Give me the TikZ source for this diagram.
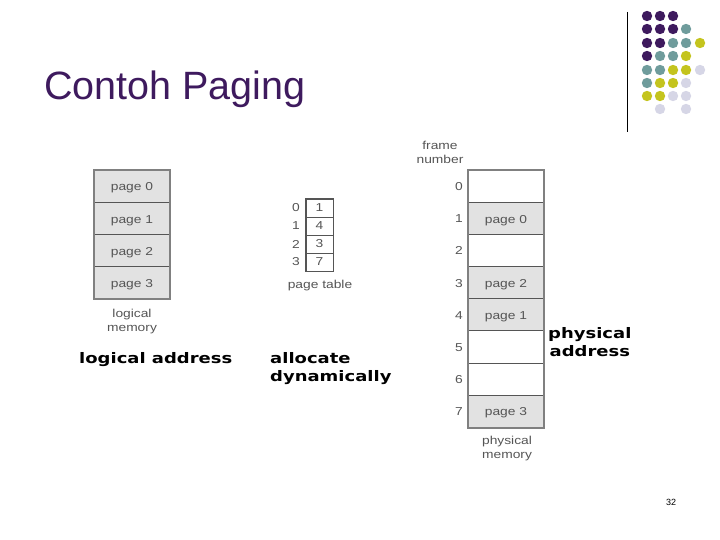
\documentclass[tikz,border=0pt]{standalone}
\usepackage{fontspec}
\setmainfont{Liberation Sans}
\newfontfamily\dvbold{DejaVu Sans}[FakeStretch=1.24]
\newfontfamily\smallfont{Liberation Sans}[FakeStretch=1.2]
\definecolor{dpurple}{HTML}{3E1A5E}
\definecolor{dteal}{HTML}{6F9C9C}
\definecolor{dyellow}{HTML}{C4C41E}
\definecolor{dlav}{HTML}{D6D6E6}
\definecolor{cellgray}{HTML}{E2E2E2}
\definecolor{linegray}{HTML}{555555}
\definecolor{txtgray}{HTML}{555555}
\begin{document}
\begin{tikzpicture}[x=1pt,y=-1pt,
  memcell/.style={draw=linegray,line width=0.7pt,minimum width=76pt,minimum height=32.25pt,inner sep=0pt,text height=9.5pt,text depth=0pt,font=\smallfont\fontsize{11.5}{12}\selectfont,text=txtgray},
  pagecell/.style={memcell,fill=cellgray},
  emptycell/.style={memcell,fill=white},
  ptcell/.style={draw=linegray,line width=0.7pt,fill=white,minimum width=27pt,minimum height=18pt,inner sep=0pt,font=\smallfont\fontsize{11.5}{12}\selectfont,text=txtgray},
  small/.style={font=\smallfont\fontsize{11.5}{14}\selectfont,text=txtgray,inner sep=0pt,align=center},
  boldlab/.style={font=\dvbold\bfseries\fontsize{14.5}{18}\selectfont,inner sep=0pt,align=left},
  frame/.style={draw=gray,line width=2pt}
]
\useasboundingbox (0,0) rectangle (720,540);
% decoration
\draw[line width=0.8pt] (627,12) -- (627,132);
\foreach \x/\y/\c in {
 647/16/dpurple,660/16/dpurple,673/16/dpurple,
 647/29/dpurple,660/29/dpurple,673/29/dpurple,686/29/dteal,
 647/43/dpurple,660/43/dpurple,673/43/dteal,686/43/dteal,700/43/dyellow,
 647/56/dpurple,660/56/dteal,673/56/dteal,686/56/dyellow,
 647/70/dteal,660/70/dteal,673/70/dyellow,686/70/dyellow,700/70/dlav,
 647/83/dteal,660/83/dyellow,673/83/dyellow,686/83/dlav,
 647/96/dyellow,660/96/dyellow,673/96/dlav,686/96/dlav,
 660/109/dlav,686/109/dlav}
 \fill[\c] (\x,\y) circle (5.2);
% title
\node[anchor=base west,inner sep=0pt,text=dpurple,font=\fontsize{39.5}{40}\selectfont] (title) at (44,100) {Contoh Paging};
% logical memory
\foreach \i in {0,1,2,3}
  \node[pagecell] (lm\i) at (132,186.125+32.25*\i) {page \i};
\draw[frame] (lm0.north west) rectangle (lm3.south east);
\node[small] (lmlab) at (132,322) {logical\\memory};
% page table
\foreach \i/\v in {0/1,1/4,2/3,3/7} {
  \node[ptcell] (pt\i) at (319.5,208+18*\i) {\v};
  \node[small,anchor=center] (pti\i) at (296,208+18*\i) {\i};
}
\draw[linegray,line width=1pt] (pt0.north west) rectangle (pt3.south east);
\node[small] (ptlab) at (320,286) {page table};
% physical memory
\foreach \i/\t/\s in {0//emptycell,1/page 0/pagecell,2//emptycell,3/page 2/pagecell,4/page 1/pagecell,5//emptycell,6//emptycell,7/page 3/pagecell} {
  \node[\s] (pm\i) at (506,186.125+32.15*\i) {\t};
  \node[small] (fn\i) at (459,186.6+32.15*\i) {\i};
}
\draw[frame] (pm0.north west) rectangle (pm7.south east);
\node[small] (fnlab) at (440,152) {frame\\number};
\node[small] (pmlab) at (507,449) {physical\\memory};
% bold labels
\node[boldlab,anchor=west] (la) at (79,360) {logical address};
\node[boldlab,anchor=north west] (ad) at (270,352) {allocate\\dynamically};
\node[boldlab,anchor=north west,align=center] (pa) at (548,327) {physical\\address};
% page number
\node[inner sep=0pt,font=\fontsize{9}{10}\selectfont] (pn) at (671,502) {32};
\end{tikzpicture}
\end{document}
